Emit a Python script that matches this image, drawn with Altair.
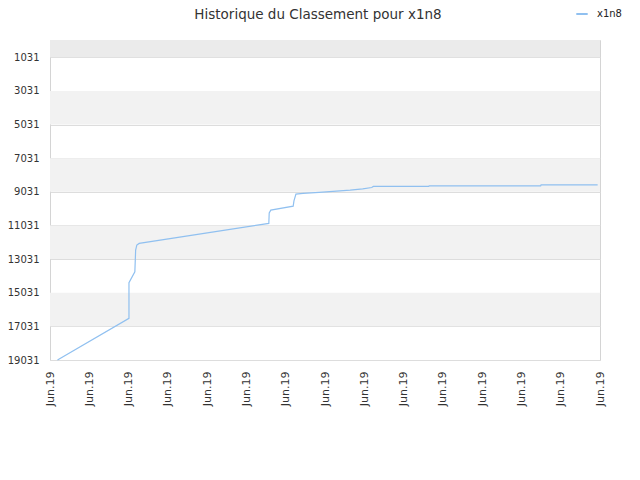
import altair as alt
import pandas as pd

# x position in "tick units" (0..14, each tick labelled Jun.19) and rank
x_pos = [0.19, 2.01, 2.01, 2.16, 2.18, 2.21, 2.27, 5.57, 5.58, 5.62, 6.19, 6.21, 6.26,
         6.44, 6.85, 7.64, 7.96, 8.19, 8.23, 9.64, 9.65, 12.49, 12.50, 13.94]
rank = [19031, 16552, 14438, 13784, 12495, 12198, 12097, 10909, 10280, 10119, 9882, 9567, 9169,
        9127, 9068, 8931, 8854, 8771, 8711, 8711, 8676, 8676, 8616, 8616]
series = "x1n8"
title_text = "Historique du Classement pour x1n8"

tick_vals = list(range(0, 15))
tick_label = "Jun.19"
y_ticks = [1031, 3031, 5031, 7031, 9031, 11031, 13031, 15031, 17031, 19031]
y_min, y_max = 1, 19031

band_lo = [1, 3031, 7031, 11031, 15031]
band_hi = [1031, 5031, 9031, 13031, 17031]
band_col = ["#ebebeb", "#f2f2f2", "#f2f2f2", "#f2f2f2", "#f2f2f2"]

df = pd.DataFrame({"x": x_pos, "rank": rank, "series": series})
bands = pd.DataFrame({"lo": band_lo, "hi": band_hi, "c": band_col})

yscale = alt.Scale(domain=[y_min, y_max], reverse=True, nice=False, zero=False)
xscale = alt.Scale(domain=[0, 14], nice=False, zero=False)

yaxis = alt.Axis(values=y_ticks, format="d", grid=True, gridColor="#dddddd",
                 ticks=False, domain=False, labelFont="DejaVu Sans", labelFontSize=10,
                 labelColor="#333333", labelPadding=11, labelOverlap=False, labelBound=False)

band_layer = alt.Chart(bands).mark_rect().encode(
    x=alt.value(0), x2=alt.value(550),
    y=alt.Y("lo:Q", scale=yscale, title=None, axis=yaxis),
    y2="hi:Q",
    fill=alt.Fill("c:N", scale=None, legend=None),
)

line = alt.Chart(df).mark_line(strokeWidth=1.2, interpolate="linear").encode(
    x=alt.X("x:Q", scale=xscale, title=None,
            axis=alt.Axis(values=tick_vals, labelExpr=f"'{tick_label}'", labelAngle=-90,
                          labelAlign="right", labelBaseline="middle", grid=False, ticks=False,
                          domain=False, labelFont="DejaVu Sans", labelFontSize=11,
                          labelColor="#333333", labelPadding=11, labelOverlap=False)),
    y=alt.Y("rank:Q", scale=yscale, title=None, axis=yaxis),
    color=alt.Color("series:N", scale=alt.Scale(range=["#90c0f0"]),
                    legend=alt.Legend(title=None, orient="none", legendX=525, legendY=-33,
                                      symbolType="stroke", symbolSize=130, symbolStrokeWidth=2,
                                      labelOffset=8, labelFont="DejaVu Sans", labelFontSize=10,
                                      labelColor="#222222")),
)

title_layer = alt.Chart(pd.DataFrame({"t": [title_text]})).mark_text(
    font="DejaVu Sans", fontSize=13.5, color="#333333", align="center", baseline="top"
).encode(text="t:N", x=alt.value(268), y=alt.value(-32))

chart = alt.layer(band_layer, line, title_layer).properties(
    width=550, height=320,
    autosize=alt.AutoSizeParams(type="none"),
    padding={"left": 42, "top": 32, "right": 32, "bottom": 112},
).configure_view(stroke="#d4d4d4", strokeWidth=1)

chart.save("out.html", embed_options={"renderer": "svg", "actions": False})
